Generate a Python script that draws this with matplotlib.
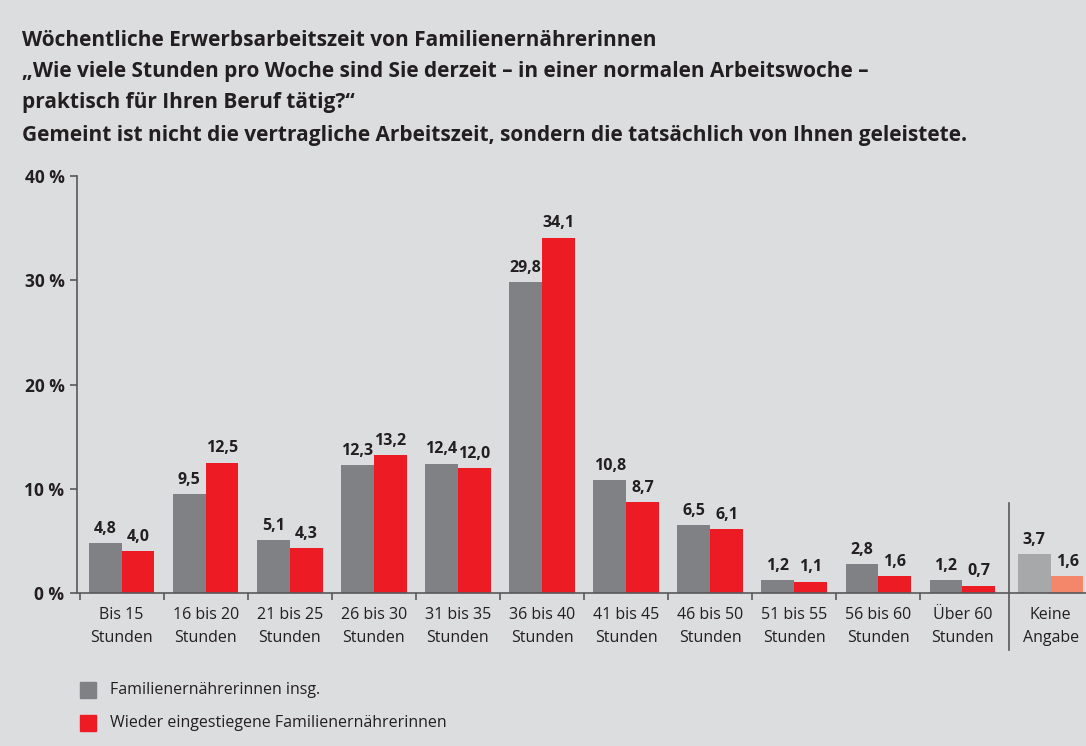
import matplotlib.pyplot as plt
import numpy as np

plt.rcParams['font.family'] = ['Open Sans', 'DejaVu Sans']

categories = ['Bis 15\nStunden', '16 bis 20\nStunden', '21 bis 25\nStunden', '26 bis 30\nStunden',
              '31 bis 35\nStunden', '36 bis 40\nStunden', '41 bis 45\nStunden', '46 bis 50\nStunden',
              '51 bis 55\nStunden', '56 bis 60\nStunden', 'Über 60\nStunden', 'Keine\nAngabe']
insg = [4.8, 9.5, 5.1, 12.3, 12.4, 29.8, 10.8, 6.5, 1.2, 2.8, 1.2, 3.7]
wieder = [4.0, 12.5, 4.3, 13.2, 12.0, 34.1, 8.7, 6.1, 1.1, 1.6, 0.7, 1.6]
series_names = ['Familienernährerinnen insg.', 'Wieder eingestiegene Familienernährerinnen']
yticks = [0, 10, 20, 30, 40]

bg = '#dcdddf'
gray = '#808184'
red = '#ed1c24'
gray_na = '#a7a8aa'
red_na = '#f4876a'
axcol = '#58585a'
txt = '#231f20'

fig = plt.figure(figsize=(10.86, 7.46), dpi=100, facecolor=bg)
ax = fig.add_axes([77 / 1086, 1 - 593 / 746, 1 - 77 / 1086, (593 - 176) / 746])
ax.set_facecolor(bg)

x = np.arange(len(categories), dtype=float)
x[-1] = 11.05
w = 0.39
cg = [gray] * 11 + [gray_na]
cr = [red] * 11 + [red_na]
ax.bar(x - w / 2, insg, w, color=cg, zorder=2)
ax.bar(x + w / 2, wieder, w, color=cr, zorder=2)

for xi, a, b in zip(x, insg, wieder):
    ax.text(xi - w / 2, a + 0.6, f'{a:.1f}'.replace('.', ','), ha='center', va='bottom',
            fontsize=11.5, fontweight='bold', color=txt)
    ax.text(xi + w / 2, b + 0.6, f'{b:.1f}'.replace('.', ','), ha='center', va='bottom',
            fontsize=11.5, fontweight='bold', color=txt)

ax.set_xlim(-0.53, 11.47)
ax.set_ylim(0, 40)
ax.set_yticks(yticks)
ax.set_yticklabels([f'{t} %' for t in yticks], fontsize=12.5, fontweight='bold', color=txt)
ax.tick_params(axis='y', length=5, width=1.2, color=axcol, pad=4)

ax.set_xticks(np.arange(-0.5, 10, 1))
ax.set_xticklabels([])
ax.tick_params(axis='x', length=5, width=1.2, color=axcol)
for xi, lab in zip(x, categories):
    ax.text(xi, -1.3, lab, ha='center', va='top', fontsize=11.5, color=txt, linespacing=1.6)

for s in ['top', 'right']:
    ax.spines[s].set_visible(False)
for s in ['left', 'bottom']:
    ax.spines[s].set_color(axcol)
    ax.spines[s].set_linewidth(1.2)
ax.plot([10.56, 10.56], [8.6, -5.5], color=axcol, lw=1.2, clip_on=False)

title = ('Wöchentliche Erwerbsarbeitszeit von Familienernährerinnen\n'
         '„Wie viele Stunden pro Woche sind Sie derzeit – in einer normalen Arbeitswoche –\n'
         'praktisch für Ihren Beruf tätig?“')
fig.text(22 / 1086, 1 - 30 / 746, title, ha='left', va='top', fontsize=15, fontweight='bold',
         color=txt, linespacing=1.62)
fig.text(22 / 1086, 1 - 125 / 746,
         'Gemeint ist nicht die vertragliche Arbeitszeit, sondern die tatsächlich von Ihnen geleistete.',
         ha='left', va='top', fontsize=15, fontweight='bold', color=txt)

for i, (name, c) in enumerate(zip(series_names, [gray, red])):
    yy = 1 - (690 + 33 * i) / 746
    fig.patches.append(plt.Rectangle((80 / 1086, yy - 8 / 746), 16 / 1086, 16 / 746,
                                     transform=fig.transFigure, color=c))
    fig.text(110 / 1086, yy, name, ha='left', va='center', fontsize=11.5, color=txt)

fig.savefig('out.png', dpi=100, facecolor=bg)
